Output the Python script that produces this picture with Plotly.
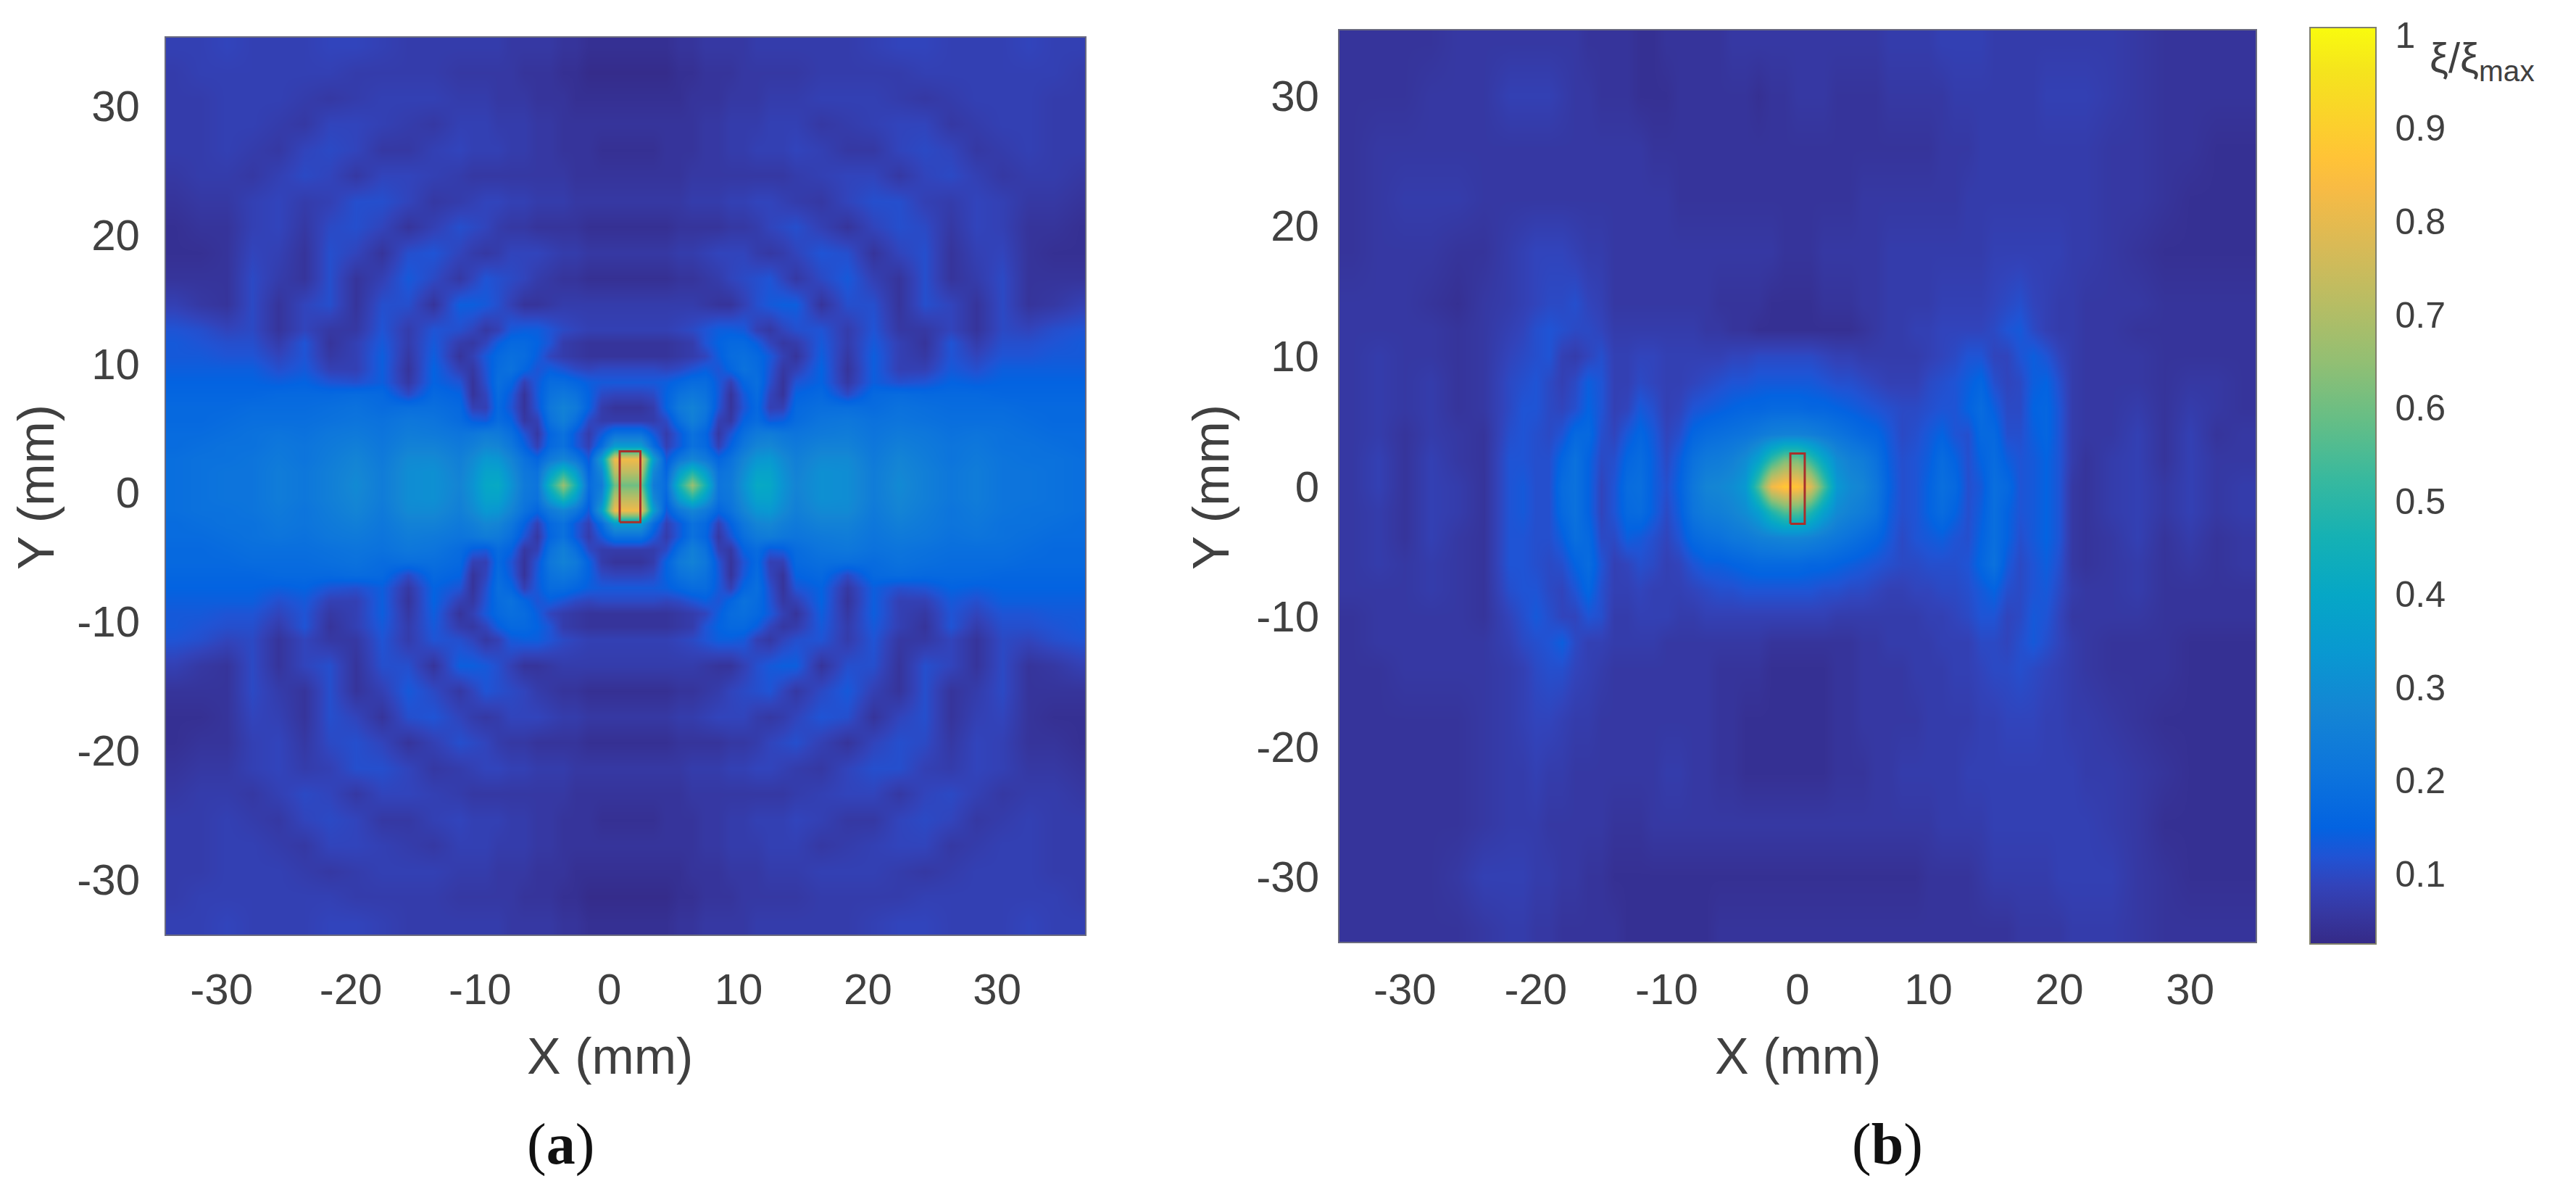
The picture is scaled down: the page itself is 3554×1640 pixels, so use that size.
import numpy as np
import plotly.graph_objects as go

WIDTH = 3554
HEIGHT = 1640

# values are xi/xi_max in percent
# panel (a): one quadrant, x and y measured from the centre of the pattern
qa_dx = [1, 2, 3, 4, 5, 6, 7, 8, 9, 10, 11, 12, 13, 15, 17, 19, 21, 23, 25, 27, 29, 31, 33, 35]
qa_dy = [0, 1, 2, 3, 4, 5, 6, 7, 8, 9, 10, 11, 12, 14, 16, 18, 20, 22, 24, 26, 28, 30, 32, 34]
qa_z = [
    [60, 24, 18, 46, 66, 46, 21, 23, 32, 41, 40, 32, 27, 31, 30, 24, 29, 25, 22, 24, 21, 21, 20, 19],
    [72, 28, 16, 36, 48, 36, 20, 22, 30, 38, 38, 31, 26, 31, 30, 24, 28, 25, 22, 24, 21, 21, 20, 19],
    [82, 36, 13, 22, 27, 23, 16, 20, 27, 33, 34, 29, 25, 29, 29, 23, 27, 24, 21, 23, 21, 20, 20, 19],
    [35, 18, 8, 13, 20, 17, 8, 15, 22, 27, 28, 25, 23, 26, 26, 22, 25, 23, 21, 22, 20, 20, 19, 18],
    [20, 13, 7, 13, 20, 16, 6, 12, 19, 23, 24, 22, 21, 23, 24, 21, 23, 22, 20, 21, 20, 19, 18, 18],
    [7, 7, 10, 19, 25, 20, 8, 6, 15, 18, 13, 14, 18, 21, 22, 20, 21, 20, 19, 19, 19, 18, 17, 17],
    [5, 7, 15, 23, 26, 22, 12, 5, 12, 17, 8, 8, 17, 19, 19, 18, 20, 19, 18, 18, 18, 17, 17, 17],
    [9, 10, 15, 20, 22, 20, 13, 5, 13, 18, 9, 5, 15, 17, 10, 17, 18, 17, 17, 17, 16, 16, 16, 16],
    [13, 13, 14, 16, 18, 18, 13, 8, 16, 19, 11, 5, 12, 15, 6, 14, 11, 12, 15, 14, 15, 15, 15, 15],
    [10, 10, 9, 10, 12, 14, 12, 16, 20, 18, 12, 6, 8, 15, 5, 14, 8, 8, 13, 11, 14, 14, 14, 14],
    [5, 5, 5, 6, 7, 9, 14, 18, 19, 17, 13, 8, 5, 14, 6, 14, 8, 6, 12, 9, 12, 12, 13, 13],
    [5, 5, 5, 6, 7, 12, 15, 17, 17, 14, 9, 6, 7, 13, 7, 13, 8, 5, 12, 7, 11, 11, 12, 13],
    [8, 8, 8, 9, 10, 12, 14, 14, 13, 8, 6, 9, 11, 12, 7, 12, 6, 6, 9, 5, 10, 9, 11, 12],
    [7, 7, 7, 7, 7, 6, 5, 5, 8, 11, 13, 14, 14, 5, 11, 11, 5, 11, 9, 5, 10, 5, 6, 8],
    [4, 4, 4, 5, 5, 6, 7, 9, 10, 11, 12, 9, 6, 10, 13, 8, 5, 11, 5, 7, 10, 5, 5, 5],
    [6, 6, 6, 7, 7, 8, 9, 9, 9, 7, 6, 7, 9, 12, 11, 5, 9, 11, 5, 8, 9, 5, 4, 4],
    [4, 4, 4, 5, 5, 5, 5, 6, 6, 7, 9, 10, 11, 8, 5, 9, 11, 10, 6, 9, 8, 5, 5, 4],
    [6, 6, 6, 6, 7, 7, 7, 8, 8, 9, 9, 8, 7, 6, 9, 11, 11, 8, 7, 9, 8, 6, 6, 5],
    [5, 5, 5, 5, 6, 6, 6, 6, 6, 6, 6, 6, 7, 8, 9, 9, 6, 9, 10, 8, 6, 7, 7, 6],
    [4, 4, 5, 5, 5, 6, 6, 7, 7, 8, 8, 8, 9, 8, 6, 6, 9, 10, 9, 6, 7, 8, 7, 7],
    [5, 5, 5, 5, 5, 6, 6, 7, 7, 7, 8, 8, 8, 6, 7, 8, 9, 9, 6, 7, 8, 8, 7, 7],
    [4, 4, 4, 4, 5, 5, 5, 6, 6, 6, 7, 7, 7, 8, 8, 8, 7, 6, 7, 8, 8, 8, 7, 7],
    [3, 3, 3, 4, 4, 5, 5, 5, 6, 6, 6, 6, 6, 7, 7, 7, 7, 8, 8, 8, 8, 8, 8, 7],
    [4, 4, 4, 5, 5, 6, 6, 6, 6, 7, 7, 7, 7, 7, 7, 8, 9, 9, 8, 8, 8, 9, 8, 8],
]
centre_a = (1.4, 0.6)

# panel (b): full grid, top row first, finer around the stripes
b_x = [-34, -32, -30, -28, -26, -24,
       -22, -21, -20, -19, -18, -17, -16, -15, -14, -13, -12, -11, -10, -9, -8,
       -7, -6, -5, -4, -3, -2, -1, 0, 1, 2, 3, 4, 5, 6, 7,
       8, 9, 10, 11, 12, 13, 14, 15, 16, 17, 18, 19, 20, 21, 22,
       24, 26, 28, 30, 32, 34]
b_y = [34, 30, 26, 22, 18, 14, 12, 10, 8, 6, 4, 2, 0, -2, -4, -6, -8, -10, -12, -14, -18, -22, -26, -30, -34]
b_z = [
    [5, 5, 5, 5, 6, 6, 6, 6, 6, 6, 6, 6, 5, 5, 5, 5, 4, 4, 5, 5, 5, 5, 5, 6, 6, 6, 6, 6, 6, 6, 6, 6, 6, 6, 6, 7, 7, 7, 7, 8, 8, 8, 8, 7, 7, 7, 7, 7, 7, 7, 7, 7, 6, 5, 5, 5, 5],
    [5, 5, 5, 6, 6, 6, 8, 8, 8, 8, 7, 6, 6, 5, 5, 5, 4, 4, 4, 5, 5, 5, 5, 5, 5, 4, 5, 5, 6, 6, 6, 5, 5, 5, 5, 6, 6, 6, 6, 6, 7, 7, 7, 7, 7, 7, 7, 8, 8, 8, 8, 7, 6, 5, 5, 5, 5],
    [5, 6, 6, 6, 6, 6, 6, 6, 6, 6, 6, 6, 6, 6, 6, 6, 6, 5, 5, 5, 5, 5, 5, 5, 5, 5, 5, 5, 5, 5, 5, 5, 5, 5, 5, 5, 5, 5, 5, 6, 6, 6, 7, 7, 7, 7, 7, 7, 7, 7, 7, 6, 6, 5, 5, 4, 4],
    [5, 6, 7, 7, 7, 6, 6, 6, 6, 6, 6, 6, 6, 6, 6, 6, 6, 6, 6, 5, 5, 5, 5, 5, 5, 5, 5, 5, 5, 5, 5, 5, 5, 6, 6, 6, 6, 6, 6, 6, 6, 7, 7, 7, 7, 7, 7, 7, 7, 7, 7, 6, 6, 5, 4, 4, 4],
    [5, 6, 6, 6, 5, 5, 7, 8, 9, 9, 9, 8, 7, 7, 6, 6, 6, 6, 6, 6, 6, 6, 6, 6, 6, 6, 6, 5, 5, 5, 6, 6, 6, 6, 6, 7, 7, 7, 7, 7, 7, 7, 7, 8, 8, 8, 8, 8, 8, 7, 7, 6, 5, 4, 4, 4, 4],
    [6, 6, 6, 5, 4, 6, 7, 8, 9, 10, 10, 11, 9, 8, 6, 6, 6, 6, 6, 6, 6, 6, 5, 5, 5, 5, 4, 4, 4, 4, 5, 5, 5, 6, 6, 7, 7, 7, 7, 8, 8, 8, 8, 9, 10, 11, 9, 8, 7, 7, 6, 6, 6, 5, 5, 5, 5],
    [6, 6, 6, 6, 5, 6, 8, 9, 11, 12, 11, 10, 10, 9, 7, 7, 7, 7, 7, 7, 7, 6, 6, 5, 5, 4, 4, 4, 4, 4, 4, 4, 4, 5, 6, 7, 7, 8, 8, 9, 9, 9, 9, 10, 12, 13, 10, 8, 7, 7, 6, 6, 5, 5, 5, 5, 5],
    [6, 7, 6, 6, 5, 6, 9, 10, 11, 12, 8, 7, 9, 11, 8, 8, 9, 9, 8, 8, 8, 8, 8, 9, 9, 10, 10, 10, 10, 10, 9, 8, 8, 7, 7, 7, 7, 7, 8, 9, 10, 12, 12, 9, 9, 12, 14, 12, 9, 7, 6, 6, 6, 5, 5, 5, 5],
    [6, 7, 6, 7, 5, 6, 10, 11, 12, 10, 8, 10, 14, 12, 8, 8, 10, 9, 8, 8, 9, 10, 11, 12, 12, 13, 13, 13, 13, 13, 12, 11, 11, 10, 9, 8, 8, 8, 10, 11, 12, 14, 16, 11, 9, 10, 14, 15, 11, 7, 6, 6, 6, 5, 6, 6, 5],
    [6, 7, 6, 7, 5, 6, 10, 12, 12, 10, 9, 11, 15, 12, 8, 9, 13, 11, 8, 9, 12, 13, 14, 15, 16, 16, 17, 17, 17, 16, 16, 15, 14, 13, 12, 11, 10, 10, 11, 12, 12, 15, 18, 14, 10, 10, 15, 16, 12, 7, 6, 6, 7, 5, 7, 6, 5],
    [6, 7, 5, 7, 6, 5, 11, 12, 11, 10, 12, 17, 17, 11, 9, 13, 16, 13, 9, 11, 16, 18, 19, 20, 21, 23, 25, 26, 26, 25, 23, 21, 19, 17, 16, 13, 10, 11, 13, 15, 12, 11, 17, 17, 11, 11, 14, 16, 12, 7, 6, 6, 8, 5, 8, 5, 6],
    [6, 8, 5, 8, 6, 5, 12, 12, 11, 11, 16, 20, 15, 10, 11, 16, 18, 14, 10, 14, 20, 23, 24, 26, 30, 38, 52, 62, 62, 52, 40, 30, 26, 24, 20, 14, 11, 12, 14, 18, 15, 11, 15, 18, 14, 12, 13, 15, 12, 7, 5, 7, 8, 5, 8, 6, 6],
    [6, 8, 5, 8, 7, 5, 12, 13, 11, 11, 18, 20, 15, 9, 12, 18, 19, 14, 11, 15, 22, 27, 28, 30, 34, 55, 82, 88, 87, 78, 55, 34, 29, 27, 22, 15, 11, 12, 15, 19, 17, 11, 13, 19, 17, 12, 13, 15, 12, 6, 5, 7, 8, 6, 8, 6, 7],
    [6, 7, 5, 8, 7, 5, 12, 13, 11, 11, 17, 20, 15, 9, 12, 17, 18, 14, 10, 14, 21, 24, 25, 27, 30, 36, 48, 56, 56, 48, 37, 29, 26, 24, 21, 14, 11, 12, 15, 18, 15, 11, 14, 19, 15, 12, 13, 15, 12, 6, 5, 7, 8, 6, 8, 6, 7],
    [6, 7, 5, 8, 6, 5, 12, 12, 11, 11, 14, 19, 17, 10, 10, 14, 13, 11, 9, 12, 17, 19, 20, 22, 23, 25, 26, 27, 27, 26, 24, 22, 20, 18, 16, 13, 10, 12, 13, 14, 12, 11, 15, 19, 15, 11, 13, 15, 12, 6, 5, 6, 8, 5, 7, 5, 6],
    [6, 7, 6, 7, 6, 5, 12, 12, 11, 10, 11, 15, 18, 12, 8, 9, 11, 10, 8, 9, 12, 14, 14, 15, 16, 17, 17, 17, 17, 16, 16, 15, 14, 13, 12, 11, 10, 10, 11, 11, 11, 12, 16, 20, 13, 10, 12, 14, 11, 6, 5, 6, 7, 5, 6, 5, 6],
    [6, 6, 6, 7, 6, 5, 11, 12, 12, 10, 9, 12, 16, 11, 8, 8, 9, 8, 8, 8, 9, 10, 11, 11, 12, 12, 12, 12, 12, 12, 11, 11, 10, 10, 9, 8, 8, 9, 9, 10, 10, 11, 13, 15, 11, 10, 12, 13, 10, 7, 6, 6, 7, 5, 5, 5, 5],
    [5, 6, 6, 6, 6, 5, 9, 11, 13, 11, 9, 9, 12, 11, 7, 7, 8, 8, 8, 7, 7, 8, 8, 8, 8, 8, 8, 8, 8, 8, 8, 7, 7, 7, 7, 7, 7, 7, 8, 8, 9, 10, 12, 12, 9, 10, 13, 12, 9, 6, 6, 6, 6, 5, 5, 5, 5],
    [5, 6, 6, 6, 6, 6, 8, 10, 11, 12, 14, 10, 8, 8, 7, 7, 7, 7, 6, 6, 6, 6, 6, 6, 6, 6, 5, 5, 5, 5, 5, 5, 5, 6, 6, 7, 7, 7, 7, 8, 8, 8, 10, 10, 9, 11, 13, 11, 9, 7, 6, 5, 5, 5, 4, 4, 4],
    [5, 5, 6, 6, 6, 6, 7, 8, 10, 11, 11, 9, 8, 7, 6, 6, 6, 6, 6, 6, 6, 6, 5, 5, 5, 5, 4, 4, 4, 4, 4, 5, 5, 6, 6, 6, 6, 7, 7, 7, 8, 8, 9, 10, 10, 11, 10, 9, 8, 7, 6, 5, 5, 5, 4, 4, 4],
    [5, 5, 5, 5, 5, 6, 7, 8, 9, 9, 8, 7, 7, 6, 6, 6, 6, 6, 6, 6, 6, 6, 5, 5, 4, 4, 4, 4, 4, 4, 4, 5, 5, 6, 6, 6, 6, 6, 7, 7, 7, 7, 8, 8, 9, 9, 9, 8, 8, 7, 7, 6, 5, 4, 4, 4, 4],
    [5, 5, 5, 5, 5, 6, 7, 7, 8, 7, 7, 6, 6, 6, 6, 6, 6, 6, 7, 7, 6, 6, 5, 5, 4, 4, 4, 4, 4, 4, 4, 5, 5, 5, 6, 6, 7, 7, 7, 7, 7, 8, 8, 8, 8, 8, 8, 8, 8, 8, 7, 7, 6, 5, 4, 4, 4],
    [5, 5, 5, 5, 5, 6, 7, 7, 7, 6, 6, 6, 6, 6, 5, 5, 5, 6, 6, 6, 6, 6, 6, 6, 6, 6, 6, 6, 6, 6, 6, 6, 6, 6, 6, 6, 6, 6, 6, 7, 7, 7, 7, 8, 8, 8, 8, 8, 8, 8, 8, 7, 6, 4, 4, 4, 4],
    [5, 5, 5, 5, 6, 8, 8, 8, 7, 7, 6, 6, 5, 5, 4, 4, 4, 4, 4, 4, 4, 4, 4, 4, 4, 4, 4, 4, 4, 4, 4, 4, 4, 4, 4, 4, 4, 4, 5, 5, 5, 5, 6, 7, 7, 7, 7, 7, 8, 8, 8, 8, 6, 5, 4, 4, 4],
    [5, 5, 5, 5, 5, 6, 7, 7, 6, 6, 5, 5, 5, 5, 5, 4, 4, 4, 4, 4, 4, 4, 5, 5, 5, 5, 5, 5, 5, 5, 5, 5, 5, 5, 5, 5, 5, 5, 5, 5, 5, 5, 5, 5, 5, 6, 6, 6, 6, 7, 7, 7, 6, 5, 5, 5, 5],
]

# the element outline drawn over each map
bar_a_x = [0.8, 2.4, 2.4, 0.8, 0.8]
bar_a_y = [-2.3, -2.3, 3.2, 3.2, -2.3]
bar_b_x = [-0.55, 0.55, 0.55, -0.55, -0.55]
bar_b_y = [-2.9, -2.9, 2.5, 2.5, -2.9]

axis_ticks = [-30, -20, -10, 0, 10, 20, 30]
axis_labels = ["-30", "-20", "-10", "0", "10", "20", "30"]
cbar_ticks = [0.1, 0.2, 0.3, 0.4, 0.5, 0.6, 0.7, 0.8, 0.9, 1]
cbar_labels = ["0.1", "0.2", "0.3", "0.4", "0.5", "0.6", "0.7", "0.8", "0.9", "1"]
CMIN = 0.025
CMAX = 1.008

# MATLAB parula
parula = [
    (0.0, "#352a87"), (0.032, "#3637a0"), (0.064, "#3243ba"), (0.095, "#2053d4"),
    (0.127, "#0363e1"), (0.19, "#0d75dc"), (0.254, "#1485d4"), (0.317, "#0998d1"),
    (0.381, "#06a7c6"), (0.444, "#15b1b4"), (0.508, "#38b99e"), (0.571, "#65be86"),
    (0.635, "#92bf73"), (0.698, "#b7bd64"), (0.762, "#d9ba56"), (0.825, "#f8bb44"),
    (0.857, "#ffc337"), (0.889, "#fcce2e"), (0.952, "#f5e41d"), (1.0, "#f9fb0e"),
]

TEXT = "#404040"
SANS = "Liberation Sans"
SERIF = "Liberation Serif"
CBAR_TOP = 38
CBAR_LEN = 1264


def mirror_quadrant(quadrant):
    right = np.array(quadrant, dtype=float) / 100
    full = np.hstack([right[:, ::-1], right])
    return np.vstack([full[:0:-1], full])


def px_x(px):
    return px / WIDTH


def px_y(px):
    return 1 - px / HEIGHT


def axis(domain, value_range, ticklen, anchor):
    return dict(
        domain=domain,
        range=value_range,
        anchor=anchor,
        tickmode="array",
        tickvals=axis_ticks,
        ticktext=axis_labels,
        tickfont=dict(family=SANS, size=60, color=TEXT),
        ticks="outside",
        ticklen=ticklen,
        tickcolor="rgba(0,0,0,0)",
        tickwidth=1,
        showgrid=False,
        zeroline=False,
        showline=True,
        mirror=True,
        linecolor="#6a6a80",
        linewidth=2,
    )


def page_text(text, x, y, family, size, color, angle=0, xanchor="center"):
    return dict(
        text=text, x=px_x(x), y=px_y(y), xref="paper", yref="paper", showarrow=False,
        xanchor=xanchor, yanchor="middle", textangle=angle,
        font=dict(family=family, size=size, color=color),
    )


def cbar_tick(value):
    # short inside tick on the right edge of the colour bar
    y = CBAR_TOP + (CMAX - value) / (CMAX - CMIN) * CBAR_LEN
    return dict(type="line", xref="paper", yref="paper", x0=px_x(3266), x1=px_x(3278),
                y0=px_y(y), y1=px_y(y), line=dict(color="#50503c", width=2))


xa = [centre_a[0] + d for d in [-v for v in qa_dx[::-1]] + qa_dx]
ya = [centre_a[1] + d for d in [-v for v in qa_dy[:0:-1]] + qa_dy]
za = mirror_quadrant(qa_z)
zb = np.array(b_z, dtype=float) / 100

fig = go.Figure()
fig.add_trace(go.Heatmap(x=xa, y=ya, z=za, coloraxis="coloraxis", zsmooth="best", xaxis="x", yaxis="y"))
fig.add_trace(go.Heatmap(x=b_x, y=b_y, z=zb, coloraxis="coloraxis", zsmooth="best", xaxis="x2", yaxis="y2"))
fig.add_trace(go.Scatter(x=bar_a_x, y=bar_a_y, mode="lines", line=dict(color="#a8302a", width=3), xaxis="x", yaxis="y"))
fig.add_trace(go.Scatter(x=bar_b_x, y=bar_b_y, mode="lines", line=dict(color="#a8302a", width=3), xaxis="x2", yaxis="y2"))

fig.update_layout(
    width=WIDTH,
    height=HEIGHT,
    margin=dict(l=0, r=0, t=0, b=0, autoexpand=False),
    paper_bgcolor="white",
    plot_bgcolor="white",
    showlegend=False,
    xaxis=axis([px_x(229), px_x(1497)], [-34.3, 36.8], 22, "y"),
    yaxis=axis([px_y(1289), px_y(52)], [-34.3, 35.3], 22, "x"),
    xaxis2=axis([px_x(1848), px_x(3112)], [-35, 35], 12, "y2"),
    yaxis2=axis([px_y(1299), px_y(42)], [-35, 35], 14, "x2"),
    coloraxis=dict(
        colorscale=parula,
        cmin=CMIN,
        cmax=CMAX,
        colorbar=dict(
            x=px_x(3187),
            xanchor="left",
            y=px_y(CBAR_TOP),
            yanchor="top",
            lenmode="pixels",
            len=CBAR_LEN,
            thicknessmode="pixels",
            thickness=91,
            tickmode="array",
            tickvals=cbar_ticks,
            ticktext=cbar_labels,
            ticks="outside",
            ticklen=16,
            tickcolor="rgba(0,0,0,0)",
            tickfont=dict(family=SANS, size=50, color=TEXT),
            outlinecolor="#80806a",
            outlinewidth=2,
            xpad=0,
            ypad=0,
        ),
    ),
    shapes=[cbar_tick(v) for v in cbar_ticks[:-1]],
    annotations=[
        page_text("X (mm)", 841, 1457, SANS, 70, TEXT),
        page_text("X (mm)", 2480, 1457, SANS, 70, TEXT),
        page_text("Y (mm)", 50, 672, SANS, 70, TEXT, angle=-90),
        page_text("Y (mm)", 1671, 672, SANS, 70, TEXT, angle=-90),
        page_text("(<b>a</b>)", 773, 1578, SERIF, 80, "#111111"),
        page_text("(<b>b</b>)", 2604, 1578, SERIF, 80, "#111111"),
        page_text("ξ/ξ<sub>max</sub>", 3350, 84, SANS, 58, TEXT, xanchor="left"),
    ],
)

fig.write_html(
    "out.html",
    config={"displayModeBar": False},
    post_script="document.body.style.margin='0';document.body.style.overflow='hidden';",
)
